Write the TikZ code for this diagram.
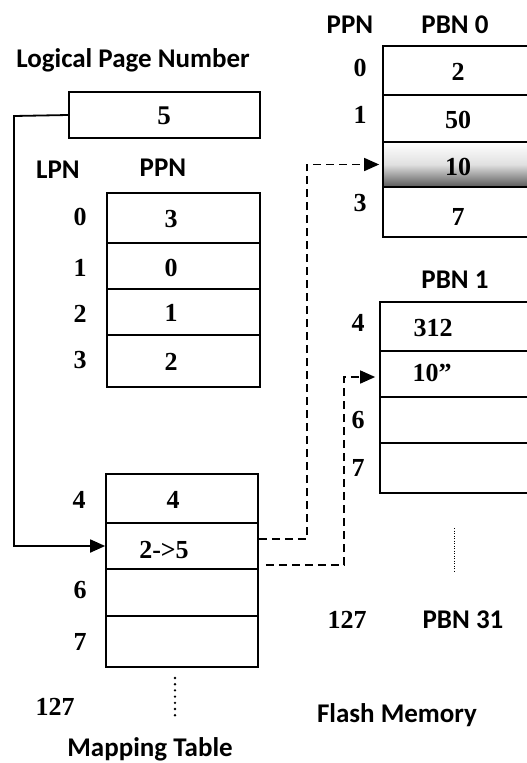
\documentclass[tikz,border=0pt]{standalone}
\usepackage{fontspec}
\setmainfont{Liberation Serif}
\newfontfamily\labfont{Carlito}
\usetikzlibrary{arrows.meta}
\tikzset{
  cell/.style={draw, line width=1.7pt, inner sep=0pt, rectangle},
  num/.style={font=\bfseries\fontsize{#1}{#1}\selectfont, inner sep=0pt},
  num/.default=26,
  lab/.style={font=\labfont\bfseries\fontsize{#1}{#1}\selectfont, inner sep=0pt},
  lab/.default=27,
  solidarrow/.style={line width=1.8pt, -{Triangle[length=15pt,width=13pt]}},
  dasharrow/.style={line width=1.6pt, dash pattern=on 8pt off 5pt, -{Triangle[length=15pt,width=13pt]}},
}
\begin{document}
\begin{tikzpicture}[x=1pt,y=-1pt]
\clip (0,0) rectangle (527,763);
\fill[white] (0,0) rectangle (527,763);
% Logical page number
\node[lab] (lpnTitle) at (133,60) {Logical Page Number};
\node[cell, minimum width=191pt, minimum height=46pt] (five) at (164.5,115) {};
\node[num=27] (fiveT) at (164,116) {5};
\node[lab] (lpnH) at (58,170) {LPN};
\node[lab] (ppnH) at (163,168) {PPN};
% mapping table top
\node[cell, minimum width=153pt, minimum height=50pt] (t0) at (183.5,218) {};
\node[cell, minimum width=153pt, minimum height=46pt] (t1) at (183.5,266) {};
\node[cell, minimum width=153pt, minimum height=46pt] (t2) at (183.5,312) {};
\node[cell, minimum width=153pt, minimum height=52pt] (t3) at (183.5,361) {};
\node[num] (t0v) at (171,219) {3};
\node[num] (t1v) at (171,268) {0};
\node[num] (t2v) at (171,313) {1};
\node[num] (t3v) at (171,362) {2};
\node[num] (t0l) at (80,217) {0};
\node[num] (t1l) at (80,268) {1};
\node[num] (t2l) at (80,314) {2};
\node[num] (t3l) at (80,360) {3};
% mapping table bottom
\node[cell, minimum width=152pt, minimum height=49pt] (b0) at (182,498.5) {};
\node[cell, minimum width=152pt, minimum height=46pt] (b1) at (182,546) {};
\node[cell, minimum width=152pt, minimum height=47pt] (b2) at (182,592.5) {};
\node[cell, minimum width=152pt, minimum height=51pt] (b3) at (182,641.5) {};
\node[num] (b0v) at (173,500) {4};
\node[num] (b1v) at (164,550) {2-\textgreater5};
\node[num] (b0l) at (79,500) {4};
\node[num] (b2l) at (80,590) {6};
\node[num] (b3l) at (80,642) {7};
\node[num] (b127) at (55,707) {127};
\draw[line width=2.6pt, dash pattern=on 0pt off 6.2pt, line cap=round] (175,678) -- (175,721);
\node[lab] (mapT) at (150,749) {Mapping Table};
% flash PBN 0
\node[lab] (ppnF) at (350,25) {PPN};
\node[lab] (pbn0) at (455,25) {PBN 0};
\node[cell, minimum width=162pt, minimum height=49pt] (p0) at (464,70.5) {};
\node[cell, minimum width=162pt, minimum height=47pt] (p1) at (464,118.5) {};
\node[cell, minimum width=162pt, minimum height=45pt, top color=white, bottom color=black!65, middle color=black!12] (p2) at (464,164.5) {};
\node[cell, minimum width=162pt, minimum height=50pt] (p3) at (464,212) {};
\node[num] (p0v) at (458,72) {2};
\node[num] (p1v) at (458,120) {50};
\node[num] (p2v) at (458,167) {10};
\node[num] (p3v) at (458,217) {7};
\node[num] (p0l) at (360,68) {0};
\node[num] (p1l) at (360,115) {1};
\node[num] (p3l) at (360,203) {3};
% flash PBN 1
\node[lab] (pbn1) at (455,280) {PBN 1};
\node[cell, minimum width=165pt, minimum height=49pt] (q0) at (462.5,326.5) {};
\node[cell, minimum width=165pt, minimum height=46pt] (q1) at (462.5,374) {};
\node[cell, minimum width=165pt, minimum height=46pt] (q2) at (462.5,420) {};
\node[cell, minimum width=165pt, minimum height=50pt] (q3) at (462.5,468) {};
\node[num] (q0v) at (433,328) {312};
\node[num] (q1v) at (432,373) {10”};
\node[num] (q0l) at (358,323) {4};
\node[num] (q2l) at (358,420) {6};
\node[num] (q3l) at (358,468) {7};
\draw[line width=1pt, dash pattern=on 1pt off 1.5pt] (454,528) -- (454,572);
\node[num] (f127) at (347,620) {127};
\node[lab] (pbn31) at (463,620) {PBN 31};
\node[lab] (flashT) at (397,715) {Flash Memory};
% connectors
\coordinate (c0) at (14,116);
\coordinate (c1) at (307,539);
\coordinate (c2) at (344,565);
\draw[solidarrow] (five.west) -- (c0) |- (b1.west);
\draw[dasharrow] ([yshift=7pt]b1.east) -- (c1) |- ([xshift=-3pt]p2.west);
\draw[dasharrow] ([xshift=7pt,yshift=-19pt]b1.east) -- (c2) |- ([xshift=-4pt,yshift=-3pt]q1.west);
\end{tikzpicture}
\end{document}
